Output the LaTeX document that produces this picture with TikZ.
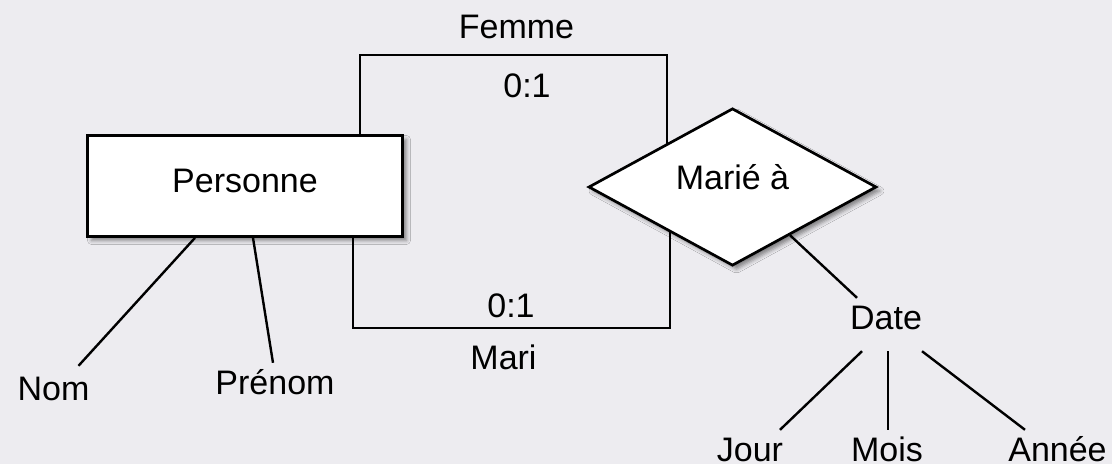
\documentclass[tikz,border=0pt]{standalone}
\usepackage{fontspec}
\setmainfont{Liberation Sans}
\usetikzlibrary{shapes.geometric,shadows.blur}
\definecolor{paper}{RGB}{237,236,240}
\begin{document}
\begin{tikzpicture}[x=1pt,y=-1pt,
  every node/.style={font=\fontsize{34}{40}\selectfont},
  softshadow/.style={blur shadow={shadow xshift=4pt,shadow yshift=-4pt,shadow blur radius=4pt,shadow opacity=45}},
  txt/.style={inner sep=0pt,text height=24pt,text depth=0pt,anchor=base},
  entity/.style={draw,line width=2.7pt,fill=white,minimum width=315pt,minimum height=101pt,
    inner sep=0pt,text height=24pt,text depth=12pt,softshadow},
  relation/.style={diamond,draw,line width=2.7pt,fill=white,minimum width=288pt,minimum height=153pt,
    inner sep=0pt,text height=24pt,text depth=20pt,softshadow},
  link/.style={line width=2.4pt}]

% canvas
\useasboundingbox (0,0) rectangle (1112,464);
\fill[paper] (0,0) rectangle (1112,464);

% entity and relationship
\node[entity] (pers) at (245,186) {Personne};
\node[relation] (marie) at (732.5,187) {Marié à};

% role names, cardinalities and attributes
\node[txt] (femme) at (516.5,38) {Femme};
\node[txt] (cf) at (527,97) {0:1};
\node[txt] (cm) at (511,317) {0:1};
\node[txt] (mari) at (503.5,369) {Mari};
\node[txt] (nom) at (53.5,400) {Nom};
\node[txt] (prenom) at (275,394) {Prénom};
\node[txt] (date) at (886,329) {Date};
\node[txt] (jour) at (750,461) {Jour};
\node[txt] (mois) at (887,461) {Mois};
\node[txt] (annee) at (1057.5,461) {Année};

% role links
\draw[link] (360,0 |- pers.north) |- (667,55) -- (667,0 |- marie.147);
\draw[link] (353,0 |- pers.south) |- (670,328) -- (670,0 |- marie.214.5);

% attribute links
\draw[link] ([shift={(-50,0)}]pers.south) -- ([shift={(25,-10)}]nom.north);
\draw[link] ([shift={(8,0)}]pers.south) -- ([shift={(-2,-7)}]prenom.north);
\draw[link] (marie.320) -- ([shift={(-29,-7)}]date.north);
\draw[link] ([shift={(-24,22)}]date.south) -- ([shift={(30,-7)}]jour.north);
\draw[link] ([shift={(2,22)}]date.south) -- ([shift={(1,-7)}]mois.north);
\draw[link] ([shift={(36,22)}]date.south) -- ([shift={(-32.5,-7)}]annee.north);
\end{tikzpicture}
\end{document}
